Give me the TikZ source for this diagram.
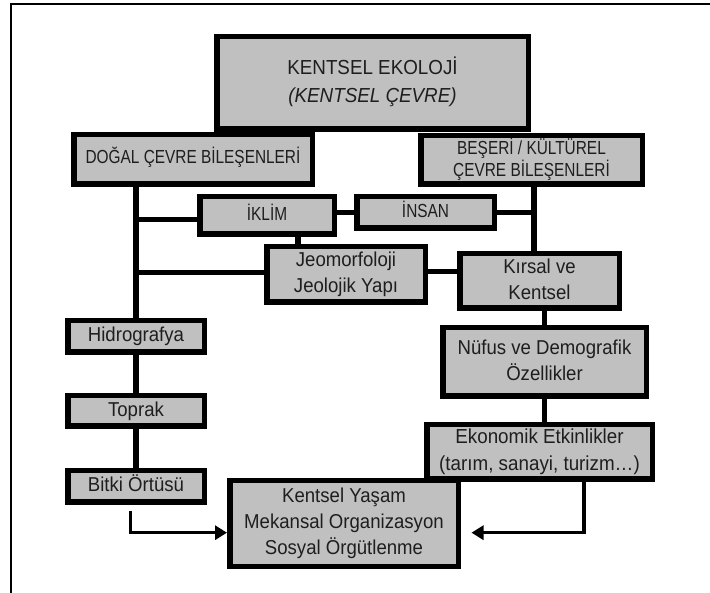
\documentclass[tikz,border=0pt]{standalone}
\usepackage{fontspec}
\usepackage{graphicx}
\setmainfont{Liberation Sans}
\usetikzlibrary{arrows.meta}
\definecolor{boxgray}{HTML}{C0C0C0}
\definecolor{ink}{HTML}{1E1E1E}

% #1 horizontal squeeze, #2 vertical nudge (pt, doubled), #3 lines
\newcommand\boxtext[3]{\raisebox{#2pt}{\scalebox{#1}[1.08]{\begin{tabular}{@{}c@{}}#3\end{tabular}}}}
% grey box from its outer corners: name, x1, y1, x2, y2, font, text
\newcommand\gbox[7]{%
  \node[gbox, font=#6, minimum width={#4-#2-5.5}, minimum height={#5-#3-5.5}]
    (#1) at ({(#2+#4)/2},{(#3+#5)/2}) {#7};}

\begin{document}
\begin{tikzpicture}[x=1pt,y=-1pt,
  gbox/.style={draw=black, fill=boxgray, line width=5.5pt, inner sep=0pt,
    text=ink, align=center},
  conn/.style={draw=black, line width=5.5pt},
  arr/.style={draw=black, line width=3.5pt,
    -{Triangle[length=12pt,width=14pt]}}]
\useasboundingbox (0,0) rectangle (710,593);

% outer frame
\draw[line width=1.8pt] (11.3,593) -- (11.3,4.2) -- (710,4.2);

\def\big{\fontsize{18.6}{24}\selectfont}
\def\caps{\fontsize{17.5}{18}\selectfont}

% boxes
\gbox{top}{214}{34}{531}{132}{\fontsize{18.8}{25.5}\selectfont}
  {\boxtext{1}{-8}{KENTSEL EKOLOJİ\\\textit{(KENTSEL ÇEVRE)}}}
\gbox{dogal}{71}{132}{315}{187}{\caps}
  {\boxtext{0.88}{10}{DOĞAL ÇEVRE BİLEŞENLERİ}}
\gbox{beseri}{418}{133}{645}{187}{\caps}
  {\boxtext{0.88}{-12}{BEŞERİ / KÜLTÜREL\\ÇEVRE BİLEŞENLERİ}}
\gbox{iklim}{197}{194}{337}{237}{\caps}
  {\boxtext{0.88}{-1}{İKLİM}}
\gbox{insan}{354}{194}{497}{231}{\caps}
  {\boxtext{0.88}{-8}{İNSAN}}
\gbox{jeo}{264}{244}{428}{305}{\big}
  {\boxtext{1}{-13}{Jeomorfoloji\\Jeolojik Yapı}}
\gbox{kirsal}{457}{251}{622}{311}{\big}
  {\boxtext{1}{-10}{Kırsal ve\\Kentsel}}
\gbox{nufus}{440}{325}{649}{399}{\big}
  {\boxtext{1}{4}{Nüfus ve Demografik\\Özellikler}}
\gbox{hidro}{65}{318}{207}{355}{\big}
  {\boxtext{1}{-11}{Hidrografya}}
\gbox{toprak}{65}{393}{207}{429}{\big}
  {\boxtext{1}{-10}{Toprak}}
\gbox{bitki}{65}{468}{207}{505}{\big}
  {\boxtext{1}{-8}{Bitki Örtüsü}}
\gbox{ekon}{424}{422}{655}{482}{\fontsize{18.8}{25}\selectfont}
  {\boxtext{1}{-16}{Ekonomik Etkinlikler\\(tarım, sanayi, turizm…)}}
\gbox{yasam}{227}{478}{461}{569}{\big}
  {\boxtext{1}{-7}{Kentsel Yaşam\\Mekansal Organizasyon\\Sosyal Örgütlenme}}

% left branch
\draw[conn] (hidro.north) -- (hidro.north |- dogal.south);
\draw[conn] (hidro.south) -- (toprak.north);
\draw[conn] (toprak.south) -- (bitki.north);
\coordinate (ikw) at ([yshift=-4pt]iklim.west);
\draw[conn] (ikw) -- (ikw -| hidro.north);
\coordinate (jw) at ([yshift=2pt]jeo.west);
\draw[conn] (jw) -- (jw -| hidro.north);
\coordinate (ijs) at ([xshift=31pt]iklim.south);
\draw[conn] (ijs) -- (ijs |- jeo.north);

% right branch
\coordinate (rtrunk) at ([xshift=2.5pt]beseri.south);
\draw[conn] (rtrunk) -- (rtrunk |- kirsal.north);
\draw[conn] (insan.west) -- (insan.west -| iklim.east);
\draw[conn] (insan.east) -- (insan.east -| rtrunk);
\coordinate (je) at ([yshift=3pt]jeo.east);
\draw[conn] (je) -- (je -| kirsal.west);
\draw[conn] (nufus.north) -- (nufus.north |- kirsal.south);
\draw[conn] (nufus.south) -- (nufus.south |- ekon.north);

% arrows into the bottom box
\coordinate (la) at ([xshift=-5.6pt,yshift=-6pt]bitki.south);
\coordinate (lc) at (130.4,532.7);
\draw[arr] (la) -- (lc) -- (lc -| yasam.west);
\coordinate (ra) at ([xshift=44.5pt]ekon.south);
\coordinate (rc) at (584,532.7);
\coordinate (rt) at ([xshift=10.5pt]yasam.east);
\draw[arr] (ra) -- (rc) -- (rc -| rt);
\end{tikzpicture}
\end{document}
